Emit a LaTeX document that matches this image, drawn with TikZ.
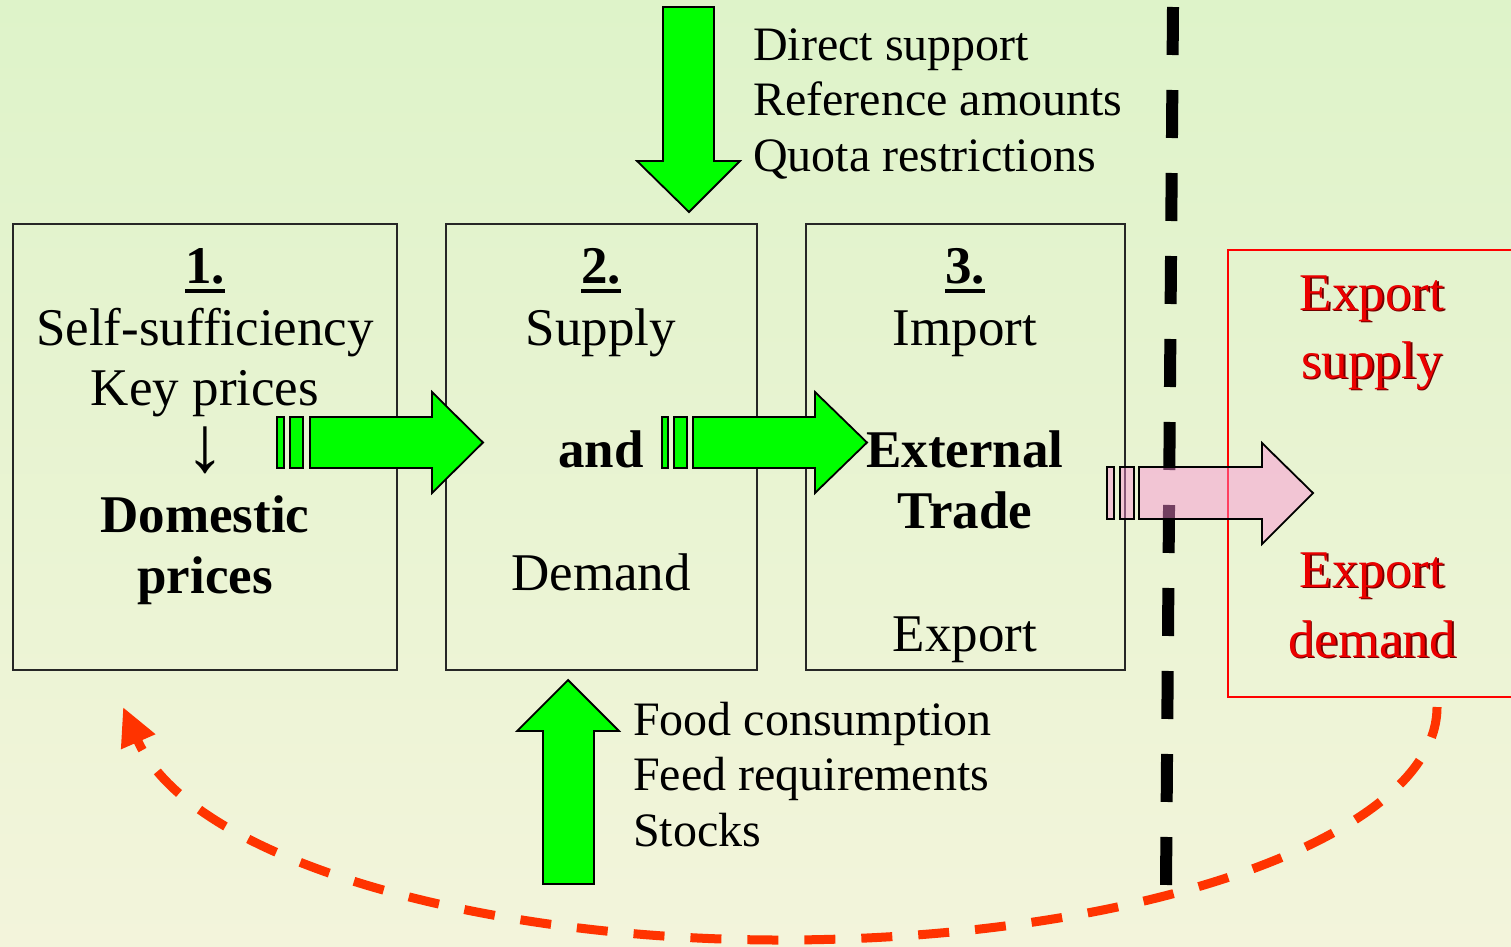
\documentclass[tikz,border=0pt]{standalone}
\usepackage{fontspec}
\setmainfont{Liberation Serif}
\usetikzlibrary{arrows.meta}

\definecolor{bgtop}{RGB}{222,243,201}
\definecolor{bgbottom}{RGB}{243,244,219}
\definecolor{flowgreen}{RGB}{0,255,0}
\definecolor{exportpink}{RGB}{255,140,215}
\definecolor{exportred}{RGB}{235,0,0}
\definecolor{shadowred}{RGB}{110,0,0}
\definecolor{loopred}{RGB}{255,51,0}

% step number with a heavy underline
\newcommand\stepnum[1]{\setbox0\hbox{\bfseries #1}%
  \rlap{\raisebox{-10pt}{\rule{\wd0}{4pt}}}\box0}
% red label with a thin dark drop shadow
\newcommand\redlabel[1]{\rlap{\kern1.6pt\raisebox{-1.6pt}{\color{shadowred}#1}}#1}

\tikzset{
  panel/.style={draw=black!85, line width=1.8pt, inner sep=0pt},
  txt/.style={inner sep=0pt, anchor=base, font=\fontsize{53pt}{60pt}\selectfont},
  boldtxt/.style={txt, font=\fontsize{53pt}{60pt}\selectfont\bfseries},
  sidetxt/.style={inner sep=0pt, anchor=base west, font=\fontsize{48pt}{56pt}\selectfont},
  redtxt/.style={txt, text=exportred},
  greenflow/.style={draw=black, line width=1.8pt, fill=flowgreen, line join=miter},
  pinkflow/.style={draw=black, line width=1.8pt, fill=exportpink, fill opacity=0.45, draw opacity=1},
  border/.style={line width=12pt, dash pattern=on 48pt off 35pt},
  loop/.style={draw=loopred, line width=9pt, dash pattern=on 31pt off 26pt,
    -{Triangle[length=38pt, width=35pt]}}
}

\begin{document}
\begin{tikzpicture}[x=1pt, y=-1pt]
\useasboundingbox (0,0) rectangle (1511,946);
\shade[top color=bgtop, bottom color=bgbottom] (0,0) rectangle (1511,946);

% panels
\node[panel, minimum width=384pt, minimum height=446pt] (p1) at (205,447) {};
\node[panel, minimum width=311pt, minimum height=446pt] (p2) at (601.5,447) {};
\node[panel, minimum width=319pt, minimum height=446pt] (p3) at (965.5,447) {};
\node[panel, draw=red, minimum width=290pt, minimum height=447pt] (p4) at (1373,473.5) {};

% panel 1
\node[txt] (n1) at (205,283) {\stepnum{1.}};
\node[txt] (self) at (205,345) {Self-sufficiency};
\node[txt] (key) at (205,405) {Key prices};
\node[txt] (down) at (205,471) {\scalebox{1.5}{↓}};
\node[boldtxt] (dom) at (205,532) {Domestic};
\node[boldtxt] (dprices) at (205,593) {prices};

% panel 2
\node[txt] (n2) at (601,283) {\stepnum{2.}};
\node[txt] (supply) at (601,345) {Supply};
\node[boldtxt] (and) at (601,467) {and};
\node[txt] (demand) at (601,590) {Demand};

% panel 3
\node[txt] (n3) at (965,283) {\stepnum{3.}};
\node[txt] (import) at (965,345) {Import};
\node[boldtxt] (ext) at (965,467) {External};
\node[boldtxt] (trade) at (965,528) {Trade};
\node[txt] (export) at (965,651) {Export};

% outside panel
\node[redtxt] (es1) at (1372,310) {\redlabel{Export}};
\node[redtxt] (es2) at (1372,378) {\redlabel{supply}};
\node[redtxt] (ed1) at (1372,587) {\redlabel{Export}};
\node[redtxt] (ed2) at (1372,657) {\redlabel{demand}};

% policy inputs (top) and demand components (bottom)
\node[sidetxt] (t1) at (753,60) {Direct support};
\node[sidetxt] (t2) at (753,115) {Reference amounts};
\node[sidetxt] (t3) at (753,171) {Quota restrictions};
\node[sidetxt] (b1) at (633,735) {Food consumption};
\node[sidetxt] (b2) at (633,790) {Feed requirements};
\node[sidetxt] (b3) at (633,846) {Stocks};

% block arrows
\draw[greenflow] (663,7) -- (714,7) -- (714,161) -- (740,161) -- (689,212)
  -- (637,161) -- (663,161) -- cycle;
\draw[greenflow] (543,884) -- (594,884) -- (594,731) -- (619,731) -- (568,680)
  -- (517,731) -- (543,731) -- cycle;

\draw[greenflow] (277,417) rectangle (284,468);
\draw[greenflow] (290,417) rectangle (303,468);
\draw[greenflow] (310,417) -- (432,417) -- (432,392) -- (483,442.5) -- (432,493)
  -- (432,468) -- (310,468) -- cycle;

\draw[greenflow] (662,417) rectangle (668,468);
\draw[greenflow] (674,417) rectangle (687,468);
\draw[greenflow] (693,417) -- (815,417) -- (815,392) -- (867,442.5) -- (815,493)
  -- (815,468) -- (693,468) -- cycle;

% border line
\coordinate (bt) at (1173,7);
\coordinate (bb) at (1166,885);
\draw[border] (bt) -- (bb);

% export arrow
\draw[pinkflow] (1107,467) rectangle (1114,519);
\draw[pinkflow] (1120,467) rectangle (1134,519);
\draw[pinkflow] (1139,467) -- (1262,467) -- (1262,443) -- (1313,493) -- (1262,544)
  -- (1262,519) -- (1139,519) -- cycle;

% feedback loop
\coordinate (ls) at (1437,707);
\coordinate (le) at (123,707);
\draw[loop] (ls) arc[start angle=0, end angle=-90, x radius=657pt, y radius=233pt]
  .. controls (480,940) and (190,860) .. (le);
\end{tikzpicture}
\end{document}
